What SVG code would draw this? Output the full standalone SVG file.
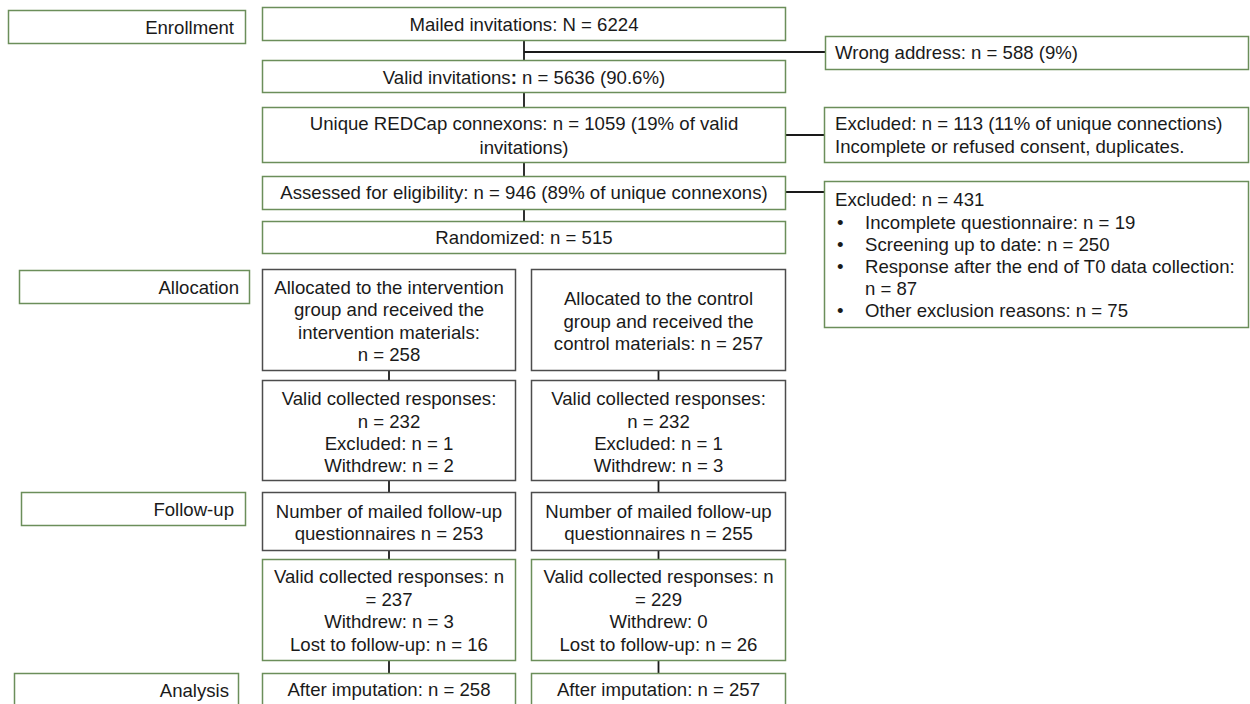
<svg xmlns="http://www.w3.org/2000/svg" width="1250" height="704" viewBox="0 0 1250 704">
<style>
rect{fill:#fff;stroke-width:1.5}
.g{stroke:#6b8e5a}
.k{stroke:#4d4d4d}
text{font-family:"Liberation Sans",Arial,sans-serif;font-size:18.6px;fill:#1a1a1a}
.c{text-anchor:middle}
.r{text-anchor:end}
#connectors line{stroke:#1a1a1a;stroke-width:1.8}
</style>
<rect width="1250" height="704" fill="#fff" stroke="none"/>
<g id="connectors">
<line x1="524" y1="41" x2="524" y2="60"/>
<line x1="524" y1="52" x2="825" y2="52"/>
<line x1="524" y1="92" x2="524" y2="107"/>
<line x1="524" y1="163" x2="524" y2="176"/>
<line x1="786" y1="135" x2="824" y2="135"/>
<line x1="524" y1="209" x2="524" y2="221"/>
<line x1="786" y1="192" x2="824" y2="192"/>
<line x1="389" y1="371" x2="389" y2="380"/>
<line x1="389" y1="481" x2="389" y2="492"/>
<line x1="389" y1="551" x2="389" y2="559"/>
<line x1="389" y1="661" x2="389" y2="673"/>
<line x1="658.5" y1="371" x2="658.5" y2="380"/>
<line x1="658.5" y1="481" x2="658.5" y2="492"/>
<line x1="658.5" y1="551" x2="658.5" y2="559"/>
<line x1="658.5" y1="661" x2="658.5" y2="673"/>
</g>
<g id="enrollment"><rect class="g" x="8.5" y="10.5" width="237" height="33"/><text class="r" x="234" y="34">Enrollment</text></g>
<g id="allocation"><rect class="g" x="19.5" y="270.5" width="230" height="33"/><text class="r" x="239" y="294">Allocation</text></g>
<g id="followup"><rect class="g" x="21.5" y="492.5" width="224" height="33"/><text class="r" x="234" y="516">Follow-up</text></g>
<g id="analysis"><rect class="g" x="14.5" y="673.5" width="224" height="40"/><text class="r" x="229" y="697">Analysis</text></g>

<g id="mailed"><rect class="g" x="262.5" y="7.5" width="523" height="33"/><text class="c" x="524" y="31">Mailed invitations: N = 6224</text></g>
<g id="wrong"><rect class="g" x="825.5" y="36.5" width="423" height="33"/><text x="835" y="59">Wrong address: n = 588 (9%)</text></g>
<g id="valid"><rect class="g" x="262.5" y="60.5" width="523" height="32"/><text class="c" x="524" y="84">Valid invitations<tspan font-weight="bold">:</tspan> n = 5636 (90.6%)</text></g>
<g id="unique"><rect class="g" x="262.5" y="107.5" width="523" height="55"/><text class="c" x="524" y="130">Unique REDCap connexons: n = 1059 (19% of valid</text><text class="c" x="524" y="154">invitations)</text></g>
<g id="excl113"><rect class="g" x="824.5" y="107.5" width="424" height="55"/><text x="835" y="130">Excluded: n = 113 (11% of unique connections)</text><text x="835" y="153">Incomplete or refused consent, duplicates.</text></g>
<g id="assessed"><rect class="g" x="262.5" y="176.5" width="523" height="33"/><text class="c" x="524" y="199">Assessed for eligibility: n = 946 (89% of unique connexons)</text></g>
<g id="excl431"><rect class="g" x="824.5" y="181.5" width="424" height="146"/>
<text x="835" y="206">Excluded: n = 431</text>
<text x="837" y="228.5">•</text><text x="865" y="228.5">Incomplete questionnaire: n = 19</text>
<text x="837" y="250.5">•</text><text x="865" y="250.5">Screening up to date: n = 250</text>
<text x="837" y="272.5">•</text><text x="865" y="272.5">Response after the end of T0 data collection:</text>
<text x="865" y="294.5">n = 87</text>
<text x="837" y="317">•</text><text x="865" y="317">Other exclusion reasons: n = 75</text></g>
<g id="randomized"><rect class="g" x="262.5" y="221.5" width="523" height="32"/><text class="c" x="524" y="244">Randomized: n = 515</text></g>

<g id="alloc-int"><rect class="k" x="262.5" y="269.5" width="253" height="101"/>
<text class="c" x="389" y="294">Allocated to the intervention</text>
<text class="c" x="389" y="316">group and received the</text>
<text class="c" x="389" y="338.5">intervention materials:</text>
<text class="c" x="389" y="361">n = 258</text></g>
<g id="alloc-ctl"><rect class="k" x="531.5" y="269.5" width="254" height="101"/>
<text class="c" x="658.5" y="305">Allocated to the control</text>
<text class="c" x="658.5" y="327.5">group and received the</text>
<text class="c" x="658.5" y="350">control materials: n = 257</text></g>

<g id="valid-int"><rect class="k" x="262.5" y="380.5" width="253" height="100"/>
<text class="c" x="389" y="405">Valid collected responses:</text>
<text class="c" x="389" y="427.5">n = 232</text>
<text class="c" x="389" y="449.5">Excluded: n = 1</text>
<text class="c" x="389" y="472">Withdrew: n = 2</text></g>
<g id="valid-ctl"><rect class="k" x="531.5" y="380.5" width="254" height="100"/>
<text class="c" x="658.5" y="405">Valid collected responses:</text>
<text class="c" x="658.5" y="427.5">n = 232</text>
<text class="c" x="658.5" y="449.5">Excluded: n = 1</text>
<text class="c" x="658.5" y="472">Withdrew: n = 3</text></g>

<g id="mailed-int"><rect class="k" x="262.5" y="492.5" width="253" height="58"/>
<text class="c" x="389" y="518">Number of mailed follow-up</text>
<text class="c" x="389" y="540">questionnaires n = 253</text></g>
<g id="mailed-ctl"><rect class="k" x="531.5" y="492.5" width="254" height="58"/>
<text class="c" x="658.5" y="518">Number of mailed follow-up</text>
<text class="c" x="658.5" y="540">questionnaires n = 255</text></g>

<g id="fu-int"><rect class="g" x="262.5" y="559.5" width="253" height="101"/>
<text class="c" x="389" y="583">Valid collected responses: n</text>
<text class="c" x="389" y="606">= 237</text>
<text class="c" x="389" y="628">Withdrew: n = 3</text>
<text class="c" x="389" y="651">Lost to follow-up: n = 16</text></g>
<g id="fu-ctl"><rect class="g" x="531.5" y="559.5" width="254" height="101"/>
<text class="c" x="658.5" y="583">Valid collected responses: n</text>
<text class="c" x="658.5" y="606">= 229</text>
<text class="c" x="658.5" y="628">Withdrew: 0</text>
<text class="c" x="658.5" y="651">Lost to follow-up: n = 26</text></g>

<g id="imp-int"><rect class="g" x="262.5" y="673.5" width="253" height="40"/><text class="c" x="389" y="696">After imputation: n = 258</text></g>
<g id="imp-ctl"><rect class="g" x="531.5" y="673.5" width="254" height="40"/><text class="c" x="658.5" y="696">After imputation: n = 257</text></g>
</svg>
